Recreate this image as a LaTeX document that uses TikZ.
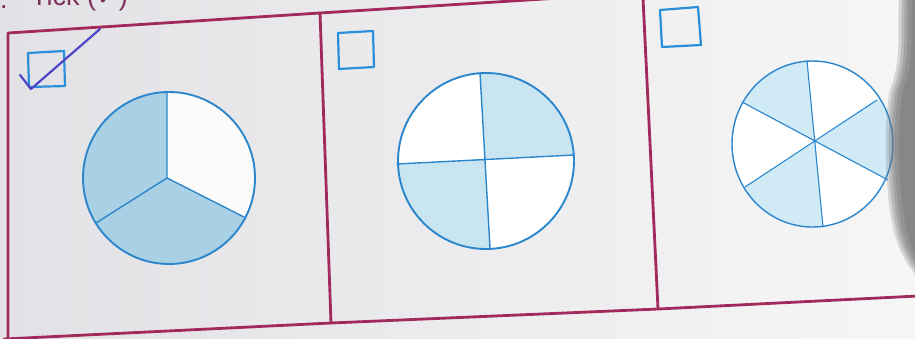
\documentclass[tikz,border=0pt]{standalone}
\usepackage{fontspec}
\setmainfont{Liberation Sans}
\newfontfamily\dejavu{DejaVu Sans}
\usetikzlibrary{calc}
\definecolor{framec}{HTML}{A2295C}
\definecolor{linec}{HTML}{2C86CC}
\definecolor{boxc}{HTML}{2A8FDA}
\definecolor{shadeA}{HTML}{A9D0E4}
\definecolor{shadeB}{HTML}{C8E5F1}
\definecolor{shadeC}{HTML}{D0EAF6}
\definecolor{tickc}{HTML}{5046C8}
\definecolor{textc}{HTML}{7C2F5A}
\definecolor{bgL}{HTML}{E2E2E6}
\definecolor{bgR}{HTML}{F6F6F6}
\tikzset{
  framestroke/.style={draw=framec, line width=2.8pt, line cap=round, line join=round},
  pieline/.style={draw=linec, line width=1.4pt, line cap=round},
  rim/.style={draw=linec, line width=1.9pt},
  checkbox/.style={draw=boxc, line width=2.2pt, line join=round},
}
\newcommand{\sect}[4]{\fill[#4] (#1) -- ($(#1)!3!(#2)$) -- ($(#1)!3!(#3)$) -- cycle;}
\begin{document}
\begin{tikzpicture}[x=1pt,y=-1pt]
\useasboundingbox (0,0) rectangle (915,338);
\begin{scope}
\clip (0,0) rectangle (915,338);
\shade[left color=bgL, right color=bgR] (0,0) rectangle (915,338);
% heading (cut off by the top edge, as in the photo)
\node[anchor=base west, text=textc, font=\fontsize{27}{30}\selectfont, inner sep=0] (dot) at (0,8) {.};
\node[anchor=base west, text=textc, font=\fontsize{27}{30}\selectfont, inner sep=0] (head) at (31,5) {Tick ({\dejavu ✓})};

% frame
\draw[framestroke] (8,340) -- (8,33) -- (320,13) -- (560,-2);
\draw[framestroke] (4,339) -- (331,323) -- (658,309) -- (918,296);
\draw[framestroke] (320,13) -- (331,323);
\draw[framestroke] (643,-2) -- (658,309);

% checkboxes
\draw[checkbox] (28,53) -- (64,51) -- (65,86) -- (29,87) -- cycle;
\draw[checkbox] (338,33) -- (373,31) -- (374,67) -- (339,69) -- cycle;
\draw[checkbox] (660,10) -- (698,7) -- (701,45) -- (662,47) -- cycle;
% tick
\draw[draw=tickc, line width=2.2pt, line cap=round, line join=round] (20,75) -- (31,89) -- (100,29);

% circle 1 : thirds
\coordinate (c1) at (167,178);
\coordinate (a1) at (167,92);
\coordinate (b1) at (96,223);
\coordinate (d1) at (244,217);
\begin{scope}
\clip (169,178) circle (86);
\fill[white!60!bgR] (169,178) circle (86);
\sect{c1}{a1}{b1}{shadeA}
\sect{c1}{b1}{d1}{shadeA}
\end{scope}
\draw[pieline] (a1) -- (c1) (b1) -- (c1) -- (d1);
\draw[rim] (169,178) circle (86);

% circle 2 : quarters
\coordinate (c2) at (485,159);
\coordinate (t2) at (480,73);
\coordinate (u2) at (490,248);
\coordinate (l2) at (397,164);
\coordinate (r2) at (574,155);
\begin{scope}
\clip (486,161) circle (88);
\fill[white] (486,161) circle (88);
\sect{c2}{t2}{r2}{shadeB}
\sect{c2}{l2}{u2}{shadeB}
\end{scope}
\draw[pieline] (t2) -- (u2) (l2) -- (r2);
\draw[rim] (486,161) circle (88);

% circle 3 : sixths
\coordinate (c3) at (815,142);
\coordinate (p1) at (807,61);
\coordinate (p2) at (877,100);
\coordinate (p3) at (888,180);
\coordinate (p4) at (823,227);
\coordinate (p5) at (745,187);
\coordinate (p6) at (742,102);
\begin{scope}
\clip (812.5,144) ellipse [x radius=80.5, y radius=83];
\fill[white] (812.5,144) ellipse [x radius=80.5, y radius=83];
\sect{c3}{p1}{p6}{shadeC}
\sect{c3}{p2}{p3}{shadeC}
\sect{c3}{p5}{p4}{shadeC}
\end{scope}
\draw[pieline, line width=1.1pt] (p1) -- (p4) (p2) -- (p5) (p3) -- (p6);
\draw[rim, line width=1.4pt] (812.5,144) ellipse [x radius=80.5, y radius=83];

% shadow at the right edge
\foreach \s/\o in {0/0.25, 3/0.28, 6/0.3, 9/0.32, 13/0.35} {
  \fill[black!55, opacity=\o, xshift=\s pt]
    (918,-2) -- (899,-2) .. controls (897,30) and (902,60) .. (890,90)
    .. controls (882,130) and (886,200) .. (894,232)
    .. controls (900,255) and (910,268) .. (918,278) -- cycle;
}
\end{scope}
\end{tikzpicture}
\end{document}
